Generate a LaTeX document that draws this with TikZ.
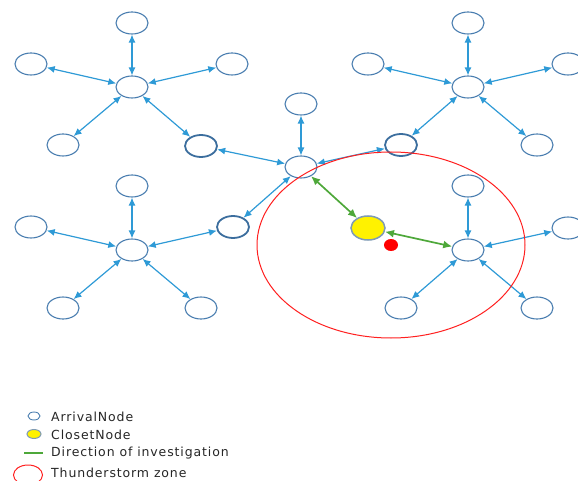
\documentclass[tikz,border=0pt]{standalone}
\usepackage{fontspec}
\setmainfont{DejaVu Sans}
\newfontfamily\legfont[LetterSpace=7]{DejaVu Sans}
\usetikzlibrary{shapes.geometric,arrows.meta}
\definecolor{nodeblue}{HTML}{4A7EB0}
\definecolor{sharedblue}{HTML}{3C6E9E}
\definecolor{arrowblue}{HTML}{2E9AD6}
\definecolor{dirgreen}{HTML}{4EA83A}
\definecolor{zonered}{HTML}{FF2020}
\definecolor{yborder}{HTML}{7F9BB5}
\tikzset{
  leaf/.style={ellipse,draw=nodeblue,fill=white,line width=1.1pt,minimum width=32pt,minimum height=22pt,inner sep=0pt},
  shared/.style={leaf,draw=sharedblue,line width=1.8pt},
  closest/.style={ellipse,draw=yborder,fill=yellow,line width=1.5pt,minimum width=34pt,minimum height=24pt,inner sep=0pt},
  link/.style={draw=arrowblue,line width=1.2pt,{Latex[length=8pt,width=7pt]}-{Latex[length=8pt,width=7pt]}},
  glink/.style={draw=dirgreen,line width=1.7pt,{Latex[length=9pt,width=8pt]}-{Latex[length=9pt,width=8pt]}},
  legtext/.style={anchor=west,inner sep=0pt,font=\legfont\fontsize{12.5}{15}\selectfont,text=black!85}
}
\begin{document}
\begin{tikzpicture}[x=1pt,y=-1pt]
\useasboundingbox (0,0) rectangle (578,481);
% shared nodes
\node[shared] (S1) at (201,146) {};
\node[shared] (S2) at (401,145) {};
\node[shared] (S3) at (233,227) {};
% top-left star
\node[leaf] (A0) at (132,87) {};
\node[leaf] (A1) at (132,23) {};
\node[leaf] (A2) at (31,64) {};
\node[leaf] (A3) at (232,64) {};
\node[leaf] (A4) at (63,145) {};
% central star
\node[leaf] (C0) at (301,167) {};
\node[leaf] (C1) at (301,104) {};
\node[closest] (Y) at (368,228) {};
% top-right star
\node[leaf] (B0) at (468,87) {};
\node[leaf] (B1) at (468,23) {};
\node[leaf] (B2) at (368,64) {};
\node[leaf] (B3) at (568,64) {};
\node[leaf] (B5) at (537,145) {};
% bottom-left star
\node[leaf] (D0) at (132,250) {};
\node[leaf] (D1) at (132,186) {};
\node[leaf] (D2) at (31,227) {};
\node[leaf] (D4) at (63,308) {};
\node[leaf] (D5) at (201,308) {};
% bottom-right star
\node[leaf] (E0) at (468,250) {};
\node[leaf] (E1) at (468,186) {};
\node[leaf] (E3) at (568,228) {};
\node[leaf] (E4) at (401,308) {};
\node[leaf] (E5) at (537,308) {};
% links
\foreach \c/\l in {A0/A1,A0/A2,A0/A3,A0/A4,A0/S1,
                   C0/C1,C0/S1,C0/S2,C0/S3,
                   B0/B1,B0/B2,B0/B3,B0/S2,B0/B5,
                   D0/D1,D0/D2,D0/S3,D0/D4,D0/D5,
                   E0/E1,E0/E3,E0/E4,E0/E5}
  \draw[link] (\c) -- (\l);
\draw[glink] (C0) -- (Y);
\draw[glink] (Y) -- (E0);
% thunderstorm zone
\node[ellipse,fill=red,minimum width=14pt,minimum height=12pt,inner sep=0pt] (R) at (391,245) {};
\draw[zonered,line width=1pt] (R.center) ellipse [x radius=134, y radius=93];
% legend
\node[ellipse,draw=nodeblue,fill=white,line width=0.9pt,minimum width=12pt,minimum height=8pt,inner sep=0pt] (L1) at (34,416) {};
\node[legtext] (T1) at (51,416.5) {ArrivalNode};
\node[ellipse,draw=yborder,fill=yellow,line width=1pt,minimum width=14pt,minimum height=9pt,inner sep=0pt] (L2) at (34,434) {};
\node[legtext] (T2) at (51,434.5) {ClosetNode};
\coordinate (G1) at (24,453);
\coordinate (G2) at (43,453);
\draw[dirgreen,line width=1.1pt] (G1) -- (G2);
\node[legtext] (T3) at (51,453.5) {Direction of investigation};
\node[ellipse,draw=zonered,line width=1pt,minimum width=29pt,minimum height=20pt,inner sep=0pt] (L4) at (28,475) {};
\node[legtext] (T4) at (51,473) {Thunderstorm zone};
\end{tikzpicture}
\end{document}
